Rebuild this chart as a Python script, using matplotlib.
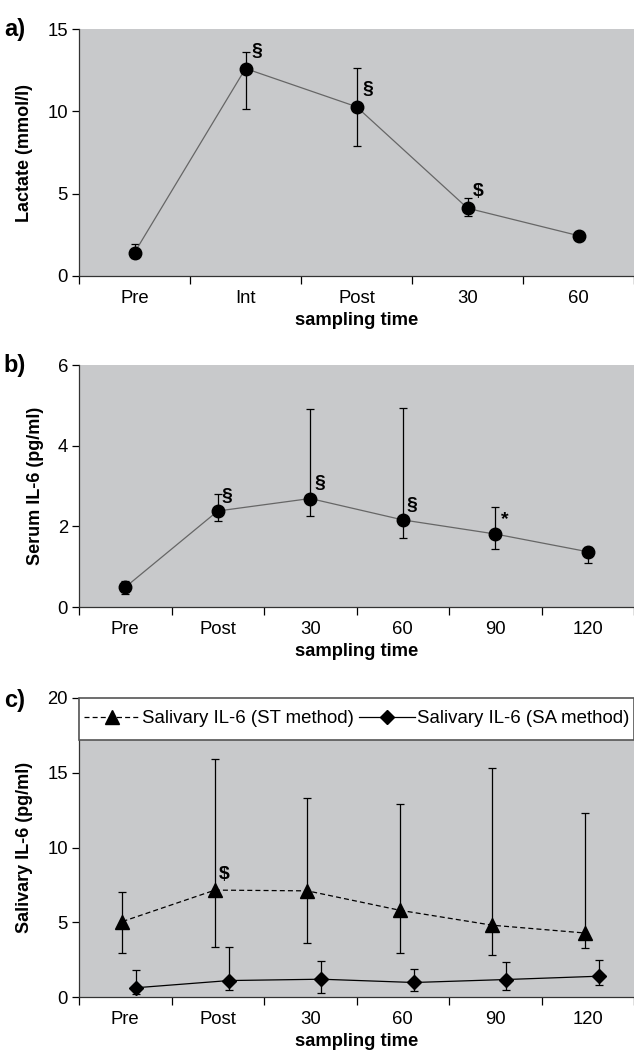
import numpy as np
import matplotlib.pyplot as plt
from matplotlib.patches import Rectangle

plt.rcParams['font.family'] = ['Liberation Sans', 'DejaVu Sans']

# Panel a: blood lactate
lac_times = ['Pre', 'Int', 'Post', '30', '60']
lac_mean = [1.42, 12.6, 10.28, 4.12, 2.45]
lac_hi = [1.92, 13.58, 12.65, 4.76, 2.62]
lac_lo = [1.1, 10.12, 7.91, 3.62, 2.2]
lac_marks = ['', '§', '§', '$', '']

# Panel b: serum IL-6
ser_times = ['Pre', 'Post', '30', '60', '90', '120']
ser_mean = [0.49, 2.38, 2.69, 2.16, 1.81, 1.37]
ser_hi = [0.65, 2.80, 4.90, 4.93, 2.49, 1.49]
ser_lo = [0.33, 2.13, 2.25, 1.72, 1.43, 1.10]
ser_marks = ['', '§', '§', '§', '*', '']

# Panel c: salivary IL-6, two methods
sal_times = ['Pre', 'Post', '30', '60', '90', '120']
st_mean = [5.05, 7.15, 7.1, 5.8, 4.8, 4.28]
st_hi = [7.01, 15.92, 13.34, 12.88, 15.35, 12.30]
st_lo = [2.91, 3.35, 3.64, 2.95, 2.78, 3.29]
sa_mean = [0.62, 1.10, 1.19, 0.97, 1.17, 1.39]
sa_hi = [1.81, 3.35, 2.40, 1.87, 2.32, 2.47]
sa_lo = [0.22, 0.49, 0.26, 0.37, 0.44, 0.79]
st_marks = ['', '$', '', '', '', '']

BG = '#c8c9cb'
W, H = 634, 1060
FS = 13.3


def style_axes(ax, labels, ymax, ystep, ylabel):
    n = len(labels)
    ax.set_facecolor(BG)
    ax.set_xlim(-0.5, n - 0.5)
    ax.set_ylim(0, ymax)
    for s in ['top', 'right']:
        ax.spines[s].set_visible(False)
    for s in ['left', 'bottom']:
        ax.spines[s].set_color('#333333')
        ax.spines[s].set_linewidth(0.9)
    ax.set_xticks(np.arange(n + 1) - 0.5)
    ax.set_xticklabels([])
    ax.set_xticks(np.arange(n), minor=True)
    ax.set_xticklabels(labels, minor=True, fontsize=FS)
    ax.tick_params(axis='x', which='major', direction='out', length=6, width=0.9)
    ax.tick_params(axis='x', which='minor', length=0, pad=10)
    ax.set_yticks(np.arange(0, ymax + 0.01, ystep))
    ax.tick_params(axis='y', direction='out', length=5, width=0.9, labelsize=FS, pad=3)
    ax.set_xlabel('sampling time', fontsize=13.2, fontweight='bold', labelpad=4)
    ax.set_ylabel(ylabel, fontsize=13, fontweight='bold', labelpad=10)


def series(ax, x, mean, lo, hi, marker, ms, ls, lc):
    mean = np.array(mean)
    err = [mean - np.array(lo), np.array(hi) - mean]
    ax.errorbar(x, mean, yerr=err, fmt='none', ecolor='black', elinewidth=0.9,
                capsize=2.8, capthick=0.9, zorder=2)
    line, = ax.plot(x, mean, color=lc, linestyle=ls, linewidth=0.9, marker=marker,
                    markersize=ms, markerfacecolor='black', markeredgecolor='black', zorder=3)
    return line


def annotate(ax, x, mean, marks, dy):
    for xi, yi, m in zip(x, mean, marks):
        if m:
            ax.text(xi + 0.1, yi + dy, m, fontsize=14, fontweight='bold', ha='center', va='bottom')


fig = plt.figure(figsize=(W / 100, H / 100), dpi=100)

def px_axes(top, bottom):
    left = 79 / W
    return fig.add_axes([left, 1 - bottom / H, 1 - left, (bottom - top) / H])

# a)
ax1 = px_axes(29, 276)
x = np.arange(len(lac_times))
series(ax1, x, lac_mean, lac_lo, lac_hi, 'o', 9, '-', '#666666')
annotate(ax1, x, lac_mean, lac_marks, 0.5)
style_axes(ax1, lac_times, 15, 5, 'Lactate (mmol/l)')
fig.text(0.006, 1 - 36 / H, 'a)', fontsize=17, fontweight='bold')

# b)
ax2 = px_axes(365, 607)
x = np.arange(len(ser_times))
series(ax2, x, ser_mean, ser_lo, ser_hi, 'o', 9, '-', '#666666')
annotate(ax2, x, ser_mean, ser_marks, 0.15)
style_axes(ax2, ser_times, 6, 2, 'Serum IL-6 (pg/ml)')
fig.text(0.006, 1 - 372 / H, 'b)', fontsize=17, fontweight='bold')

# c)
ax3 = px_axes(698, 997)
x = np.arange(len(sal_times))
l1 = series(ax3, x - 0.03, st_mean, st_lo, st_hi, '^', 10, (0, (4, 2.5)), 'black')
l2 = series(ax3, x + 0.12, sa_mean, sa_lo, sa_hi, 'D', 7.5, '-', 'black')
annotate(ax3, x - 0.03, st_mean, st_marks, 0.5)
style_axes(ax3, sal_times, 20, 5, 'Salivary IL-6 (pg/ml)')
ax3.add_patch(Rectangle((0, 17.2 / 20), 1, 1 - 17.2 / 20, transform=ax3.transAxes,
                        facecolor='white', edgecolor='#555555', linewidth=1.2, zorder=4,
                        clip_on=False))
ax3.legend([l1, l2], ['Salivary IL-6 (ST method)', 'Salivary IL-6 (SA method)'],
           loc='center', bbox_to_anchor=(0.5, (1 + 17.2 / 20) / 2), ncol=2,
           frameon=False, fontsize=13.4, handlelength=3.0, handletextpad=0.1,
           columnspacing=0.3, borderaxespad=0)
fig.text(0.006, 1 - 707 / H, 'c)', fontsize=17, fontweight='bold')

fig.savefig('out.png', dpi=100)
